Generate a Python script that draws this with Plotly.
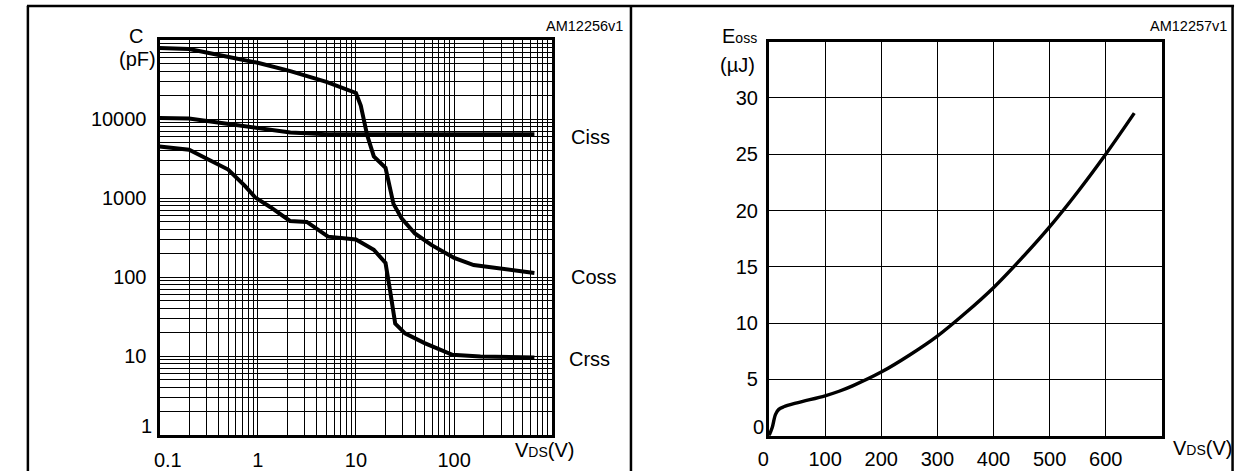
import plotly.graph_objects as go

W, H = 1236, 471
FONT = "Liberation Sans, Arial, sans-serif"

# ---------------- data (left: capacitance variations) ----------------
coss_v = [0.1, 0.2, 0.465, 1.0, 2.15, 5.0, 10, 11.2, 13.0, 15.2, 20, 24.1, 29.3, 39.8, 58.5, 100, 158, 316, 656]
coss_c = [79300, 77100, 62400, 51600, 40500, 29600, 21400, 14850, 6280, 3380, 2420, 845, 550, 357, 256, 175, 142, 127, 113]

ciss_v = [0.1, 0.2, 0.465, 1.0, 2.15, 5.0, 656]
ciss_c = [10350, 10150, 8790, 7620, 6790, 6410, 6410]

crss_v = [0.1, 0.2, 0.5, 0.74, 0.94, 1.35, 2.13, 2.8, 3.16, 5.2, 10, 15.2, 20, 22.4, 25.1, 31.6, 50, 96, 185, 656]
crss_c = [4510, 4090, 2300, 1430, 1023, 767, 514, 514, 500, 325, 300, 222, 151, 64, 25.8, 19.4, 14.6, 10.4, 9.9, 9.6]

curve_names = ["Ciss", "Coss", "Crss"]

# log-grid ticks
left_x_major = [0.1, 1, 10, 100, 1000]
left_x_labels = ["\u00a0\u00a0\u00a00.1", "1", "10", "100", ""]
left_y_major = [1, 10, 100, 1000, 10000, 100000]
left_y_labels = ["", "10", "100", "1000", "10000", ""]

# ---------------- data (right: Eoss) ----------------
eoss_v = [0, 5.8, 11.7, 17.5, 26.3, 50, 100, 125, 150, 200, 250, 300, 350, 400, 450, 500, 550, 600, 650.9]
eoss_e = [0, 0.73, 1.9, 2.34, 2.57, 2.92, 3.55, 3.95, 4.45, 5.65, 7.15, 8.85, 10.9, 13.15, 15.75, 18.55, 21.65, 25.0, 28.65]

right_x_ticks = [0, 100, 200, 300, 400, 500, 600, 700]
right_x_labels = ["0\u00a0\u00a0", "100", "200", "300", "400", "500", "600", ""]
right_y_ticks = [0, 5, 10, 15, 20, 25, 30, 35]
right_y_labels = ["", "5", "10", "15", "20", "25", "30", ""]


def px(x):
    return x / W


def py(y):
    return 1 - y / H


def minor_log(majors):
    vals = []
    for m in majors[:-1]:
        for k in range(1, 10):
            vals.append(m * k)
    vals.append(majors[-1])
    return vals


lx_vals = minor_log(left_x_major)
lx_text = [left_x_labels[left_x_major.index(v)] if v in left_x_major else "" for v in lx_vals]
ly_vals = minor_log(left_y_major)
ly_text = [left_y_labels[left_y_major.index(v)] if v in left_y_major else "" for v in ly_vals]

fig = go.Figure()
line_style = dict(color="black", width=4)
fig.add_trace(go.Scatter(x=coss_v, y=coss_c, mode="lines", line=line_style, xaxis="x", yaxis="y", name="Coss"))
fig.add_trace(go.Scatter(x=ciss_v, y=ciss_c, mode="lines", line=line_style, xaxis="x", yaxis="y", name="Ciss"))
fig.add_trace(go.Scatter(x=crss_v, y=crss_c, mode="lines", line=line_style, xaxis="x", yaxis="y", name="Crss"))
fig.add_trace(go.Scatter(x=eoss_v, y=eoss_e, mode="lines",
                         line=dict(color="black", width=3.4, shape="spline", smoothing=1.0),
                         xaxis="x2", yaxis="y2", name="Eoss"))

tickfont = dict(family=FONT, size=20, color="black")
common = dict(showline=True, linewidth=3, linecolor="black", mirror=True, showgrid=True,
              gridcolor="black", gridwidth=1.2, zeroline=False, ticks="", tickfont=tickfont,
              tickmode="array", fixedrange=True)

fig.update_layout(
    width=W, height=H, margin=dict(l=0, r=0, t=0, b=0),
    paper_bgcolor="white", plot_bgcolor="white", showlegend=False,
    font=dict(family=FONT, color="black"),
    xaxis=dict(type="log", range=[-1, 3], domain=[px(140), px(540)], anchor="y",
               tickvals=lx_vals, ticktext=lx_text, ticklabelstandoff=5, **common),
    yaxis=dict(type="log", range=[0, 5], domain=[py(441.7), py(40.7)], anchor="x",
               tickvals=ly_vals, ticktext=ly_text, ticklabelstandoff=6, **common),
    xaxis2=dict(range=[0, 700], domain=[px(760.5), px(1160.5)], anchor="y2",
                tickvals=right_x_ticks, ticktext=right_x_labels, ticklabelstandoff=3, **common),
    yaxis2=dict(range=[0, 35], domain=[py(442.3), py(42.3)], anchor="x2",
                tickvals=right_y_ticks, ticktext=right_y_labels, ticklabelstandoff=4, **common),
)

ann = []


def add(text, x, y, xanchor="center", size=20, yanchor="middle"):
    ann.append(dict(text=text, x=px(x), y=py(y), xref="paper", yref="paper", showarrow=False,
                    xanchor=xanchor, yanchor=yanchor, font=dict(family=FONT, size=size, color="black")))


small = "<span style='font-size:14px'>{}</span>"
# left panel texts
add("C", 116, 36.5)
add("(pF)", 138, 60, xanchor="right")
add("1", 134, 432, xanchor="right")
add("V" + small.format("DS") + "(V)", 532, 457)
add("AM12256v1", 614, 26, xanchor="right", size=14.5)
add(curve_names[0], 557, 139, xanchor="left")
add(curve_names[1], 557, 281, xanchor="left")
add(curve_names[2], 555, 364, xanchor="left")
# right panel texts
add("E" + small.format("oss"), 731, 37)
add("(µJ)", 748, 66, xanchor="right")
add("0", 757, 433, xanchor="right")
add("V" + small.format("DS") + "(V)", 1202, 455)
add("AM12257v1", 1229, 26, xanchor="right", size=14.5)
fig.update_layout(annotations=ann)

# panel frame lines
shapes = []
for (x0, y0, x1, y1) in [(5, 6, 1234, 6), (6, 6, 6, 480), (620, 6, 620, 480), (1232.5, 6, 1232.5, 480)]:
    shapes.append(dict(type="line", xref="paper", yref="paper", x0=px(x0), y0=py(y0), x1=px(x1), y1=py(y1),
                       line=dict(color="black", width=2.5)))
fig.update_layout(shapes=shapes)

fig.write_html("out.html")
